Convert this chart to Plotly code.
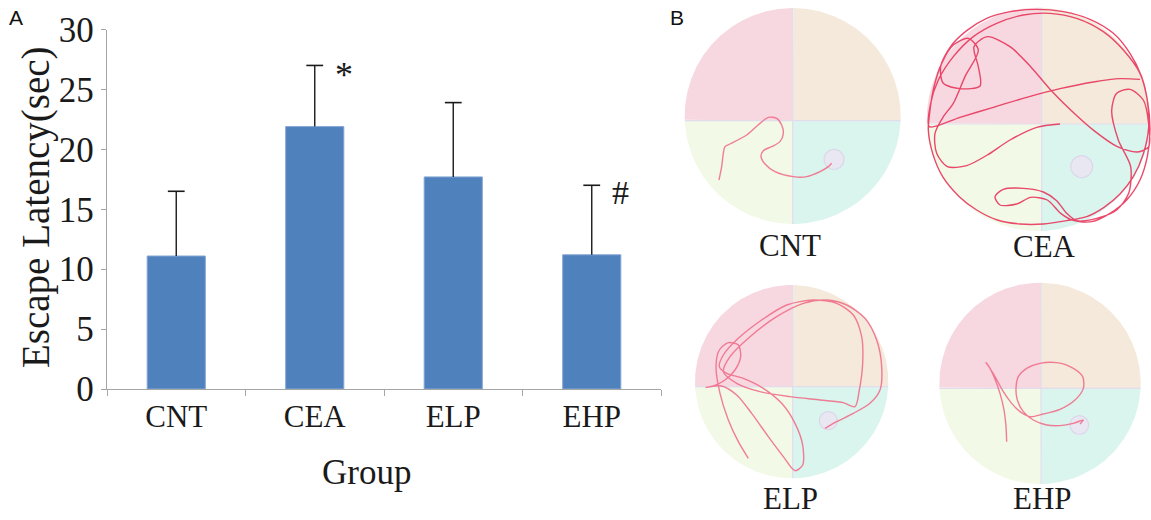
import numpy as np
import plotly.graph_objects as go

# ---------------- Panel A data ----------------
groups = ["CNT", "CEA", "ELP", "EHP"]
latency_mean = [11.1, 21.9, 17.7, 11.2]
latency_sd = [5.4, 5.1, 6.2, 5.8]
sig_marks = ["", "*", "", "#"]
y_ticks = [0, 5, 10, 15, 20, 25, 30]

# ---------------- Panel B data (tracking camera frame, y down) ----------------
pool_names = ["CNT", "CEA", "ELP", "EHP"]
pool_cx = [338, 385, 335, 390]
pool_cy = [348, 358, 365, 370]
pool_r = [324, 335, 290, 302]
divider_x = [338, 395, 338, 393]
divider_y = [362, 372, 380, 385]
platform_x = [462, 515, 445, 508]
platform_y = [478, 500, 482, 495]
platform_r = [30, 33, 27, 28]
frame_w = [720, 723, 720, 723]
frame_h = [780, 780, 780, 780]
label_x = [330, 402, 330, 396]
label_y = [735, 740, 715, 715]

cnt_track_x = [117, 125, 135, 150, 200, 240, 265, 290, 305, 310, 300, 275, 250, 243, 255, 285, 340, 380, 420, 445, 455]
cnt_track_y = [540, 500, 440, 432, 405, 370, 352, 355, 375, 400, 425, 440, 452, 470, 492, 515, 530, 530, 515, 500, 490]

cea_track_x = [450, 380, 300, 232, 170, 112, 80, 75, 100, 130, 165, 205,
               175, 130, 95, 72, 60, 55, 68, 98, 148, 200, 262, 330, 400, 470, 530, 582, 630, 670, 700, 716, 712, 695,
               660, 610, 540, 460, 380, 300, 230, 170, 120, 92, 100, 150, 210, 205, 192, 232, 300, 362, 422, 482, 552,
               622, 682, 716,
               716, 700, 660, 620, 605, 625, 662, 656, 620, 560, 500, 470, 440, 400, 340, 280, 255, 270, 320, 362, 412,
               452, 492,
               545, 600, 650, 690, 712, 720, 712, 690, 640, 580, 500, 420, 340, 260, 190, 130, 85, 62, 58,
               150, 250, 350, 450, 550, 630, 690]
cea_track_y = [372, 382, 420, 465, 497, 500, 460, 400, 350, 310, 230, 150,
               115, 135, 190, 260, 330, 390, 460, 530, 590, 630, 660, 672, 672, 662, 650, 622, 582, 530, 462, 382, 302, 230,
               160, 100, 58, 35, 28, 35, 55, 92, 142, 200, 250, 266, 258, 200, 140, 110, 140, 200, 270, 330, 392,
               440, 456, 440,
               372, 300, 268, 280, 332, 420, 500, 580, 630, 655, 662, 640, 602, 576, 565, 568, 590, 615, 612, 592, 600,
               640, 662,
               665, 640, 600, 540, 470, 390, 300, 220, 150, 95, 55, 40, 45, 70, 110, 170, 240, 310, 380,
               352, 322, 292, 266, 246, 236, 238]

elp_track_x = [205, 175, 145, 120, 108, 118, 145, 175, 182, 165, 135, 100, 78, 125, 170, 215, 265, 310, 345, 368,
               368, 345, 305, 250, 190, 140, 118, 130, 175, 245, 320, 400, 470, 520, 545, 548, 538, 525, 490, 420,
               330, 240, 170, 130, 150, 210, 290, 370, 440, 500, 555, 590, 605, 600, 570, 520, 470, 435]
elp_track_y = [595, 545, 480, 400, 320, 270, 248, 255, 290, 330, 360, 378, 382, 378, 405, 460, 530, 590, 632, 615,
               555, 490, 430, 385, 355, 340, 320, 285, 235, 180, 135, 120, 130, 165, 230, 310, 390, 440, 428, 420,
               410, 395, 370, 335, 290, 230, 170, 130, 120, 135, 175, 240, 320, 390, 430, 460, 485, 505]

ehp_track_x = [290, 288, 282, 270, 252, 237, 228, 240, 258, 280, 305, 330, 360, 400, 450, 495, 520, 518, 490, 440,
               390, 350, 325, 318, 322, 340, 370, 410, 450, 490, 520, 510]
ehp_track_y = [545, 500, 450, 400, 350, 320, 308, 325, 355, 395, 430, 455, 470, 462, 448, 420, 385, 350, 325, 308,
               310, 325, 350, 385, 420, 455, 480, 495, 497, 490, 480, 492]

tracks_x = [cnt_track_x, cea_track_x, elp_track_x, ehp_track_x]
tracks_y = [cnt_track_y, cea_track_y, elp_track_y, ehp_track_y]

# ---------------- layout constants (pixels) ----------------
W, H = 1151, 520
panel_left = [680, 910, 680, 910]
panel_top = [0, 0, 260, 260]
panel_w = [240, 241, 240, 241]
panel_h = [260, 260, 260, 260]

quad_colors = {"TL": "#F7D7E0", "TR": "#F4E9DA", "BL": "#F2F9E7", "BR": "#DAF4EE"}
quad_center_angle = {"TL": 1.25 * np.pi, "TR": 1.75 * np.pi, "BL": 0.75 * np.pi, "BR": 0.25 * np.pi}
track_colors = ["#F0718C", "#E8375C", "#F0718C", "#F0718C"]
serif = "Liberation Serif, Times New Roman, serif"
ink = "#1A1A1A"

fig = go.Figure()

# ---------------- Panel A: bar chart ----------------
fig.add_trace(go.Bar(
    x=groups, y=latency_mean, width=0.42,
    marker=dict(color="#4F81BD", line=dict(color="#86A8D6", width=1)),
    xaxis="x", yaxis="y", showlegend=False, hoverinfo="skip",
))

# one-sided (upper) error bars: stems + caps
tops = [m + s for m, s in zip(latency_mean, latency_sd)]
stem_x, stem_y = [], []
for g, m, t in zip(groups, latency_mean, tops):
    stem_x += [g, g, None]
    stem_y += [m, t, None]
fig.add_trace(go.Scatter(x=stem_x, y=stem_y, mode="lines", line=dict(color=ink, width=1.4),
                         xaxis="x", yaxis="y", showlegend=False, hoverinfo="skip"))
fig.add_trace(go.Scatter(x=groups, y=tops, mode="markers",
                         marker=dict(symbol="line-ew", size=12, line=dict(color=ink, width=1.6)),
                         xaxis="x", yaxis="y", showlegend=False, hoverinfo="skip", cliponaxis=False))

for g, t, mk in zip(groups, tops, sig_marks):
    if mk:
        fig.add_annotation(x=groups.index(g) + 0.21, y=t - (0.8 if mk == "*" else 0.6), xref="x", yref="y",
                           text=mk, showarrow=False, xanchor="center", yanchor="middle",
                           font=dict(family=serif, size=36 if mk == "*" else 34, color=ink))

axis_col = "#A6A6A6"
fig.update_layout(
    xaxis=dict(domain=[107 / W, 661 / W], range=[-0.5, 3.5], type="category",
               showline=True, linecolor=axis_col, linewidth=1.3, ticks="outside", tickson="boundaries",
               ticklen=6, tickcolor=axis_col, showgrid=False, zeroline=False, automargin=False,
               tickfont=dict(family=serif, size=31, color=ink), anchor="y", fixedrange=True),
    yaxis=dict(domain=[1 - 389 / H, 1 - 29.5 / H], range=[0, 30], tickvals=y_ticks,
               showline=True, linecolor=axis_col, linewidth=1.3, ticks="outside", ticklen=5,
               tickcolor=axis_col, showgrid=False, zeroline=False, automargin=False,
               tickfont=dict(family=serif, size=35, color=ink), anchor="x", fixedrange=True),
)

fig.add_annotation(x=36 / W, y=1 - 207 / H, xref="paper", yref="paper", text="Escape Latency(sec)",
                   textangle=-90, showarrow=False, xanchor="center", yanchor="middle",
                   font=dict(family=serif, size=39, color=ink))
fig.add_annotation(x=366 / W, y=1 - 472 / H, xref="paper", yref="paper", text="Group",
                   showarrow=False, xanchor="center", yanchor="middle",
                   font=dict(family=serif, size=35, color=ink))
fig.add_annotation(x=16 / W, y=1 - 18 / H, xref="paper", yref="paper", text="A",
                   showarrow=False, xanchor="center", yanchor="middle",
                   font=dict(family="Liberation Sans, Arial, sans-serif", size=21, color="#111111"))
fig.add_annotation(x=677 / W, y=1 - 18 / H, xref="paper", yref="paper", text="B",
                   showarrow=False, xanchor="center", yanchor="middle",
                   font=dict(family="Liberation Sans, Arial, sans-serif", size=21, color="#111111"))

# ---------------- Panel B: water maze tracks ----------------
for i in range(4):
    ax_id = i + 2
    xa, ya = f"x{ax_id}", f"y{ax_id}"
    cx, cy, r = pool_cx[i], pool_cy[i], pool_r[i]
    vx, hy = divider_x[i], divider_y[i]
    for q, col in quad_colors.items():
        a0 = quad_center_angle[q]
        th = np.linspace(a0 - 0.75 * np.pi, a0 + 0.75 * np.pi, 900)
        px = cx + r * np.cos(th)
        py = cy + r * np.sin(th)
        left = px <= vx if q in ("TL", "BL") else px >= vx
        top = py <= hy if q in ("TL", "TR") else py >= hy
        keep = left & top
        qx = np.concatenate([[vx], px[keep], [vx]])
        qy = np.concatenate([[hy], py[keep], [hy]])
        fig.add_trace(go.Scatter(x=qx, y=qy, mode="lines", fill="toself", fillcolor=col,
                                 line=dict(width=0, color=col), xaxis=xa, yaxis=ya,
                                 showlegend=False, hoverinfo="skip"))
    dx_half = np.sqrt(max(r ** 2 - (hy - cy) ** 2, 0))
    dy_half = np.sqrt(max(r ** 2 - (vx - cx) ** 2, 0))
    fig.add_trace(go.Scatter(x=[cx - dx_half, cx + dx_half, None, vx, vx],
                             y=[hy, hy, None, cy - dy_half, cy + dy_half],
                             mode="lines", line=dict(color="#E2DCEC", width=1.2), xaxis=xa, yaxis=ya,
                             showlegend=False, hoverinfo="skip"))
    pth = np.linspace(0, 2 * np.pi, 80)
    fig.add_trace(go.Scatter(x=platform_x[i] + platform_r[i] * np.cos(pth),
                             y=platform_y[i] + platform_r[i] * np.sin(pth),
                             mode="lines", fill="toself", fillcolor="#E9E7F1",
                             line=dict(color="#DCD6EA", width=1.2), xaxis=xa, yaxis=ya,
                             showlegend=False, hoverinfo="skip"))
    fig.add_trace(go.Scatter(x=tracks_x[i], y=tracks_y[i], mode="lines",
                             line=dict(color=track_colors[i], width=1.4, shape="spline", smoothing=0.8),
                             opacity=0.9, xaxis=xa, yaxis=ya, showlegend=False, hoverinfo="skip"))
    fig.add_annotation(x=label_x[i], y=label_y[i], xref=xa, yref=ya, text=pool_names[i],
                       showarrow=False, xanchor="center", yanchor="middle",
                       font=dict(family=serif, size=31, color=ink))
    L, T, PW, PH = panel_left[i], panel_top[i], panel_w[i], panel_h[i]
    fig.update_layout(**{
        f"xaxis{ax_id}": dict(domain=[L / W, min((L + PW) / W, 1)], range=[0, frame_w[i]], visible=False,
                              fixedrange=True, anchor=ya, automargin=False),
        f"yaxis{ax_id}": dict(domain=[1 - (T + PH) / H, 1 - T / H], range=[frame_h[i], 0], visible=False,
                              fixedrange=True, anchor=xa, automargin=False),
    })

fig.update_layout(width=W, height=H, margin=dict(l=0, r=0, t=0, b=0, pad=0, autoexpand=False),
                  paper_bgcolor="white", plot_bgcolor="rgba(0,0,0,0)", showlegend=False)

fig.write_html("out.html", config={"responsive": False, "displayModeBar": False},
               post_script="document.body.style.margin='0px';document.body.style.overflow='hidden';")
